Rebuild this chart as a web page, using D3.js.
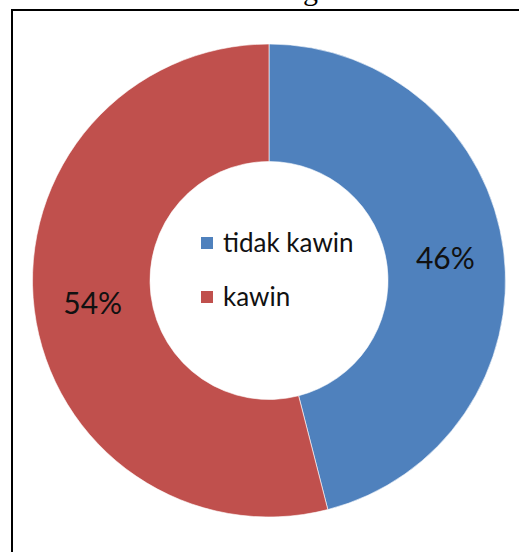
<!DOCTYPE html>
<html>
<head>
<meta charset="utf-8">
<script src="https://cdn.jsdelivr.net/npm/d3@7"></script>
<style>
  html, body { margin: 0; padding: 0; background: #fff; }
  svg { display: block; }
</style>
</head>
<body>
<div id="chart"></div>
<script>
// Marital status share
const categories = ["tidak kawin", "kawin"];
const values = [46, 54];
const colors = ["#4F81BD", "#C0504D"];

const width = 519, height = 552;
const cx = 269, cy = 280.5;
const outerR = 236.5, innerR = 119;

const svg = d3.select("#chart").append("svg")
  .attr("width", width)
  .attr("height", height);

svg.append("rect").attr("width", width).attr("height", height).attr("fill", "#fff");

// Caption line above the frame (only its lower part shows)
svg.append("text")
  .attr("x", 303).attr("y", 0)
  .attr("font-family", "Liberation Serif, serif")
  .attr("font-size", 30)
  .attr("fill", "#000")
  .text("g");

// Chart frame
svg.append("rect")
  .attr("x", 12).attr("y", 10)
  .attr("width", 540).attr("height", 580)
  .attr("fill", "none")
  .attr("stroke", "#000")
  .attr("stroke-width", 2);

const data = categories.map((c, i) => ({ name: c, value: values[i], color: colors[i] }));

const pie = d3.pie().value(d => d.value).sort(null);
const arc = d3.arc().innerRadius(innerR).outerRadius(outerR);
const arcs = pie(data);

const g = svg.append("g").attr("transform", `translate(${cx},${cy})`);

g.selectAll("path.slice")
  .data(arcs)
  .join("path")
  .attr("class", "slice")
  .attr("d", arc)
  .attr("fill", d => d.data.color)
  .attr("stroke", "#fff")
  .attr("stroke-width", 0.6);

// Percentage labels at the ring's mid-radius
const total = d3.sum(values);
g.selectAll("text.pct")
  .data(arcs)
  .join("text")
  .attr("class", "pct")
  .attr("transform", d => `translate(${arc.centroid(d)})`)
  .attr("text-anchor", "middle")
  .attr("dy", "0.36em")
  .attr("font-family", "Lato, 'Open Sans', sans-serif")
  .attr("font-size", 30)
  .attr("fill", "#111")
  .text(d => Math.round(d.data.value / total * 100) + "%");

// Legend inside the hole
const legend = svg.append("g").attr("transform", "translate(201,237)");
const rows = legend.selectAll("g.row")
  .data(data)
  .join("g")
  .attr("class", "row")
  .attr("transform", (d, i) => `translate(0,${i * 54})`);

rows.append("rect")
  .attr("width", 12).attr("height", 12)
  .attr("fill", d => d.color);

rows.append("text")
  .attr("x", 22).attr("y", 15)
  .attr("font-family", "Lato, 'Open Sans', sans-serif")
  .attr("font-size", 26)
  .attr("fill", "#111")
  .text(d => d.name);
</script>
</body>
</html>
